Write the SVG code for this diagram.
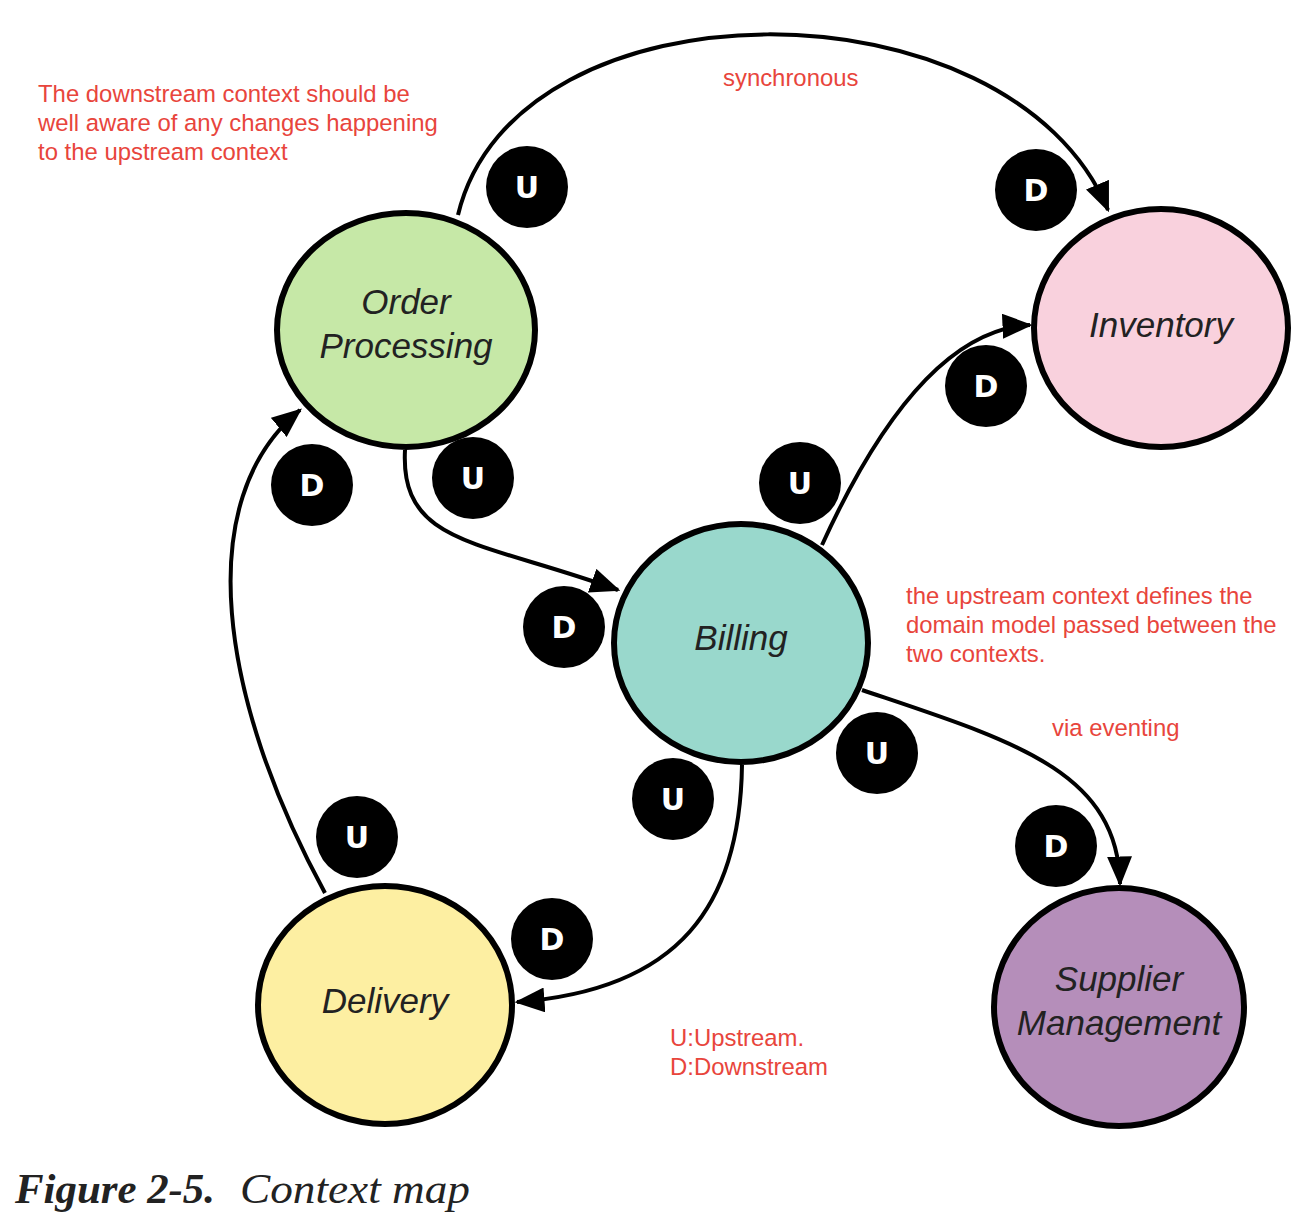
<svg xmlns="http://www.w3.org/2000/svg" width="1312" height="1230" viewBox="0 0 1312 1230">
<style>
.node{stroke:#000;stroke-width:6}
.lbl{font-family:"Liberation Sans",Arial,sans-serif;font-style:italic;font-size:35px;fill:#222;text-anchor:middle}
.badge circle{fill:#000}
.badge text{font-family:"DejaVu Sans",sans-serif;font-weight:bold;font-size:30px;fill:#fff;text-anchor:middle}
.note{font-family:"Liberation Sans",Arial,sans-serif;font-size:23.9px;fill:#E8453C}
.conn{fill:none;stroke:#000;stroke-width:4}
</style>
<defs>
<marker id="arr" viewBox="0 0 12 10" refX="11" refY="5" markerWidth="7.5" markerHeight="6.25" markerUnits="strokeWidth" orient="auto">
<path d="M0,0 L12,5 L0,10 Z" fill="#000"/>
</marker>
</defs>
<rect width="1312" height="1230" fill="#fff"/>
<g id="connectors">
<path class="conn" d="M458 215 C515 -25 1010 -25 1108 210" marker-end="url(#arr)"/>
<path class="conn" d="M405 450 C400 545 480 540 618 590" marker-end="url(#arr)"/>
<path class="conn" d="M822 545 Q920 330 1030 325" marker-end="url(#arr)"/>
<path class="conn" d="M862 690 C1010 740 1118 770 1120 884" marker-end="url(#arr)"/>
<path class="conn" d="M742 765 C740 905 680 990 517 1002" marker-end="url(#arr)"/>
<path class="conn" d="M325 893 C220 700 190 500 300 410" marker-end="url(#arr)"/>
</g>
<g id="order-processing"><ellipse class="node" cx="406" cy="330" rx="129" ry="117" fill="#C6E8A7"/><text class="lbl" x="406" y="314">Order</text><text class="lbl" x="406" y="358">Processing</text></g>
<g id="inventory"><ellipse class="node" cx="1161" cy="328" rx="127" ry="119" fill="#F9D1DD"/><text class="lbl" x="1161" y="337">Inventory</text></g>
<g id="billing"><ellipse class="node" cx="741" cy="643" rx="127" ry="119" fill="#99D8CC"/><text class="lbl" x="741" y="650">Billing</text></g>
<g id="delivery"><ellipse class="node" cx="385" cy="1005" rx="127" ry="119" fill="#FDEFA2"/><text class="lbl" x="385" y="1013">Delivery</text></g>
<g id="supplier-management"><ellipse class="node" cx="1119" cy="1007" rx="125" ry="119" fill="#B58EBA"/><text class="lbl" x="1119" y="991">Supplier</text><text class="lbl" x="1119" y="1035">Management</text></g>
<g id="badges">
<g class="badge"><circle cx="527" cy="187" r="41"/><text x="527" y="198">U</text></g>
<g class="badge"><circle cx="1036" cy="190" r="41"/><text x="1036" y="201">D</text></g>
<g class="badge"><circle cx="986" cy="386" r="41"/><text x="986" y="397">D</text></g>
<g class="badge"><circle cx="800" cy="483" r="41"/><text x="800" y="494">U</text></g>
<g class="badge"><circle cx="312" cy="485" r="41"/><text x="312" y="496">D</text></g>
<g class="badge"><circle cx="473" cy="478" r="41"/><text x="473" y="489">U</text></g>
<g class="badge"><circle cx="564" cy="627" r="41"/><text x="564" y="638">D</text></g>
<g class="badge"><circle cx="877" cy="753" r="41"/><text x="877" y="764">U</text></g>
<g class="badge"><circle cx="673" cy="799" r="41"/><text x="673" y="810">U</text></g>
<g class="badge"><circle cx="357" cy="837" r="41"/><text x="357" y="848">U</text></g>
<g class="badge"><circle cx="552" cy="939" r="41"/><text x="552" y="950">D</text></g>
<g class="badge"><circle cx="1056" cy="846" r="41"/><text x="1056" y="857">D</text></g>
</g>
<g id="notes">
<text class="note" x="38" y="102">The downstream context should be</text>
<text class="note" x="38" y="131">well aware of any changes happening</text>
<text class="note" x="38" y="160">to the upstream context</text>
<text class="note" x="723" y="86">synchronous</text>
<text class="note" x="906" y="604">the upstream context defines the</text>
<text class="note" x="906" y="633">domain model passed between the</text>
<text class="note" x="906" y="662">two contexts.</text>
<text class="note" x="1052" y="736">via eventing</text>
<text class="note" x="670" y="1046">U:Upstream.</text>
<text class="note" x="670" y="1075">D:Downstream</text>
</g>
<g id="caption" font-family="'Liberation Serif','DejaVu Serif',serif" font-style="italic" font-size="42" fill="#222">
<text x="15" y="1203" font-weight="bold" textLength="200" lengthAdjust="spacingAndGlyphs">Figure 2-5.</text>
<text x="240" y="1203" textLength="230" lengthAdjust="spacingAndGlyphs">Context map</text>
</g>
</svg>
